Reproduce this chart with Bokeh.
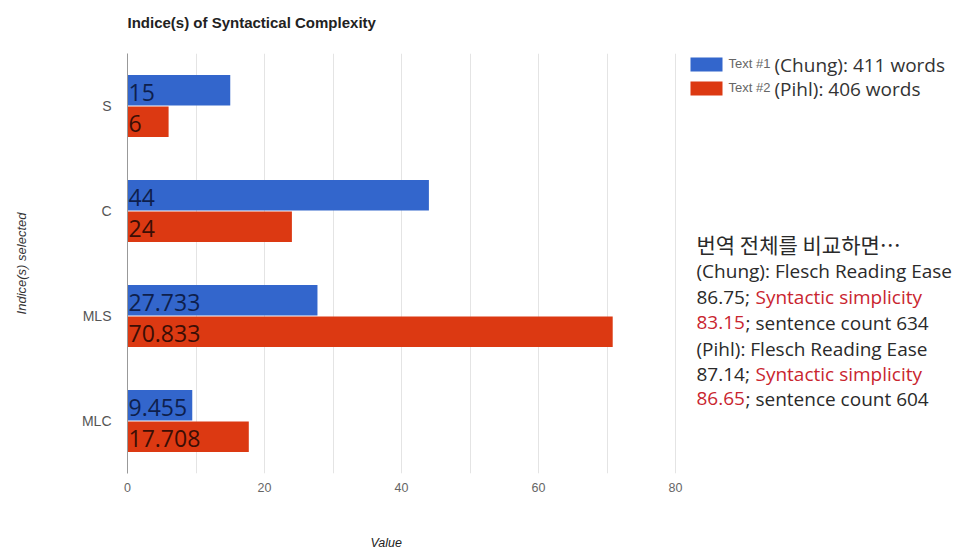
from bokeh.plotting import figure
from bokeh.models import (FactorRange, Range1d, FixedTicker, Label, BoxAnnotation,
                          ColumnDataSource, Title)
from bokeh.transform import dodge
from bokeh.core.properties import value
from bokeh.embed import file_html
from bokeh.resources import INLINE

# ---- data ----
categories = ["S", "C", "MLS", "MLC"]
chung = [15, 44, 27.733, 9.455]
pihl = [6, 24, 70.833, 17.708]
chung_labels = ["15", "44", "27.733", "9.455"]
pihl_labels = ["6", "24", "70.833", "17.708"]
x_ticks = [0, 20, 40, 60, 80]
grid_ticks = [0, 10, 20, 30, 40, 50, 60, 70, 80]
series_names = ["(Chung): 411 words", "(Pihl): 406 words"]
series_tags = ["Text #1", "Text #2"]
title_text = "Indice(s) of Syntactical Complexity"
x_title = "Value"
y_title = "Indice(s) selected"

BLUE = "#3366cc"
RED = "#dc3912"

W, H = 963, 550
FL, FT, FH = 127, 53, 420
PX_PER_UNIT = 548 / 80.0          # 0..80 spans 548 px in the reference
FW = W - FL                       # frame runs to the right edge (legend/notes live there)
FB = FT + FH
x_end = FW / PX_PER_UNIT

p = figure(width=W, height=H, y_range=FactorRange(factors=categories[::-1]),
           x_range=Range1d(0, x_end), output_backend="svg", toolbar_location=None,
           min_border_left=FL, min_border_right=0,
           min_border_top=FT, min_border_bottom=H - FB)
p.outline_line_color = None
p.y_range.range_padding = 0

src = ColumnDataSource(dict(cat=categories, chung=chung, pihl=pihl,
                            cl=chung_labels, pl=pihl_labels))

p.hbar(y=dodge("cat", 0.15, range=p.y_range), left=0, right="chung", height=0.29,
       fill_color=BLUE, line_color=None, source=src)
p.hbar(y=dodge("cat", -0.15, range=p.y_range), left=0, right="pihl", height=0.29,
       fill_color=RED, line_color=None, source=src)
p.text(x=0, y=dodge("cat", 0.15, range=p.y_range), text="cl", source=src,
       text_font=value("Open Sans"), text_font_size="23px", text_baseline="middle",
       text_color="#0e1f4d", x_offset=1, y_offset=2)
p.text(x=0, y=dodge("cat", -0.15, range=p.y_range), text="pl", source=src,
       text_font=value("Open Sans"), text_font_size="23px", text_baseline="middle",
       text_color="#3b0e05", x_offset=1, y_offset=2)

# axes
xa = p.xaxis[0]
xa.ticker = FixedTicker(ticks=x_ticks)
xa.axis_line_color = None
xa.major_tick_line_color = None
xa.minor_tick_line_color = None
xa.major_label_text_font = "Liberation Sans"
xa.major_label_text_font_size = "12.5px"
xa.major_label_text_color = "#666666"
xa.major_label_standoff = 3

ya = p.yaxis[0]
ya.axis_line_color = "#999999"
ya.major_tick_line_color = None
ya.minor_tick_line_color = None
ya.major_label_text_font = "Liberation Sans"
ya.major_label_text_font_size = "14px"
ya.major_label_text_color = "#555555"
ya.major_label_standoff = 10
ya.axis_label = y_title
ya.axis_label_text_font = "Liberation Sans"
ya.axis_label_text_font_style = "italic"
ya.axis_label_text_font_size = "13px"
ya.axis_label_text_color = "#333333"
ya.axis_label_standoff = 50

p.xgrid.ticker = FixedTicker(ticks=grid_ticks)
p.xgrid.grid_line_color = "#e4e4e4"
p.ygrid.grid_line_color = None

# spacer then title (above)
p.add_layout(Title(text=" ", text_font_size="14px", standoff=0), "above")
p.add_layout(Title(text=title_text, align="left", text_font="Liberation Sans",
                   text_font_size="15px", text_font_style="bold", text_color="#222222",
                   standoff=10), "above")
# spacer then x-axis title (below)
p.add_layout(Title(text=" ", text_font_size="14px", standoff=21), "below")
p.add_layout(Title(text=x_title, align="left", offset=385 - FL - 15, text_font="Liberation Sans",
                   text_font_size="12.5px", text_font_style="italic", text_color="#222222",
                   standoff=0), "below")


def sx(cx):
    return cx - FL


def sy(cy):
    return FB - cy


def lab(text, cx, cy, size, color="#333333", font="Open Sans", style="normal", align="left"):
    p.add_layout(Label(x=sx(cx), y=sy(cy), x_units="screen", y_units="screen", text=text,
                       text_font=font, text_font_size=size, text_color=color,
                       text_font_style=style, text_baseline="middle", text_align=align))


# legend
for i, (c, tag, name) in enumerate(zip([BLUE, RED], series_tags, series_names)):
    cy = 64 + 24 * i
    p.add_layout(BoxAnnotation(left=sx(690), right=sx(722), top=sy(cy - 7), bottom=sy(cy + 7),
                               left_units="screen", right_units="screen", top_units="screen",
                               bottom_units="screen", fill_color=c, fill_alpha=1, line_color=None))
    lab(tag, 728, cy - 1, "13px", "#666666", "Liberation Sans")
    lab(name, 774, cy, "19px", "#333333", "Open Sans")

# note block
DARK = "#2a2a2a"
PINK = "#c9252f"
x0 = 696
lab("번역 전체를 비교하면…", x0, 243, "21px", DARK, "Noto Sans CJK KR")
lab("(Chung): Flesch Reading Ease", x0, 270, "19px", DARK)
lab("86.75;", x0, 296, "19px", DARK)
lab("Syntactic simplicity", x0 + 59, 296, "19px", PINK)
lab("83.15", x0, 322, "19px", PINK)
lab("; sentence count 634", x0 + 49, 322, "19px", DARK)
lab("(Pihl): Flesch Reading Ease", x0, 348, "19px", DARK)
lab("87.14;", x0, 373, "19px", DARK)
lab("Syntactic simplicity", x0 + 59, 373, "19px", PINK)
lab("86.65", x0, 398, "19px", PINK)
lab("; sentence count 604", x0 + 49, 398, "19px", DARK)

open("out.html", "w").write(file_html(p, INLINE))
